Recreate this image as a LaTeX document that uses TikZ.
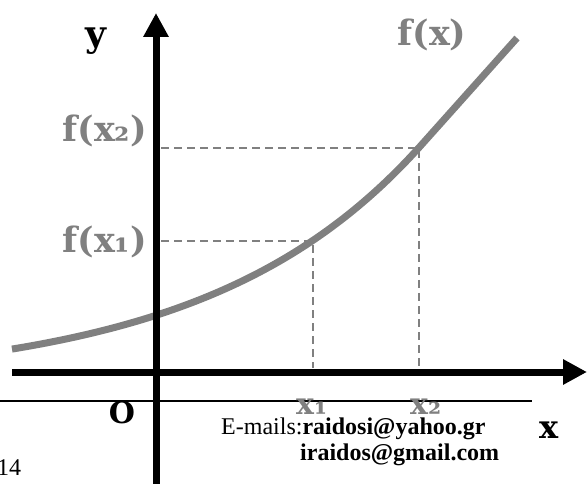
\documentclass[tikz,border=0pt]{standalone}
\usepackage{fontspec}
\setmainfont{DejaVu Serif}
\newfontfamily\tnr{Liberation Serif}
\usetikzlibrary{arrows.meta}
\definecolor{fgray}{RGB}{128,128,128}
\begin{document}
\begin{tikzpicture}[x=1pt,y=-1pt,
  axis/.style={line width=7pt, -{Triangle[length=24pt,width=24pt]}},
  curve/.style={fgray, line width=7pt, line join=round},
  guide/.style={fgray, line width=1.5pt, dash pattern=on 8pt off 5pt},
  rule/.style={black, line width=1.5pt},
  glabel/.style={fgray, font=\bfseries\fontsize{35}{35}\selectfont, inner sep=0pt},
  xlabel/.style={fgray, font=\bfseries\fontsize{30}{30}\selectfont, inner sep=0pt},
  blabel/.style={black, font=\bfseries\fontsize{32}{32}\selectfont, inner sep=0pt},
  mail/.style={font=\tnr\fontsize{24}{24}\selectfont, inner sep=0pt}]
\useasboundingbox (0,0) rectangle (587,484);
\clip (0,0) rectangle (587,484);
% coordinates
\coordinate (ybot) at (156,490);
\coordinate (ytop) at (156,13);
\coordinate (xleft) at (12,372);
\coordinate (xright) at (587,372);
\coordinate (ruleL) at (-2,401);
\coordinate (ruleR) at (532,401);
\coordinate (p1) at (313,241);
\coordinate (p2) at (419,148);
\coordinate (fy1) at (161,241);
\coordinate (fy2) at (161,148);
\coordinate (bx1) at (313,368);
\coordinate (bx2) at (419,368);
\coordinate (cend) at (517,38);
% thin rule
\draw[rule] (ruleL) -- (ruleR);
% curve
\draw[curve] plot[domain=12:419, samples=80] (\x, {384-33*exp(0.0047*\x)}) -- (cend);
% guides
\draw[guide] (fy1) -- (p1) -- (bx1);
\draw[guide] (fy2) -- (p2) -- (bx2);
% axes
\draw[axis] (ybot) -- (ytop);
\draw[axis] (xleft) -- (xright);
% labels
\node[blabel, font=\bfseries\fontsize{36}{36}\selectfont, anchor=base] (ylab) at (96,47) {y};
\node[glabel, anchor=base] (fxlab) at (432,46) {f(x)};
\node[glabel, anchor=base east] (fx2lab) at (147,142) {f(x₂)};
\node[glabel, anchor=base east] (fx1lab) at (147,252) {f(x₁)};
\node[blabel, font=\bfseries\fontsize{30}{30}\selectfont, anchor=base] (olab) at (122,423) {O};
\node[xlabel, anchor=base west] (x1lab) at (296,414) {x₁};
\node[xlabel, anchor=base west] (x2lab) at (410,414) {x₂};
\node[blabel, anchor=base west] (xlab) at (539,438) {x};
\node[mail, anchor=base west] (mail1) at (221,434) {E-mails:\textbf{raidosi@yahoo.gr}};
\node[mail, anchor=base west] (mail2) at (300,460) {\textbf{iraidos@gmail.com}};
\node[mail, anchor=base west] (pg) at (-3,475) {14};
\end{tikzpicture}
\end{document}
